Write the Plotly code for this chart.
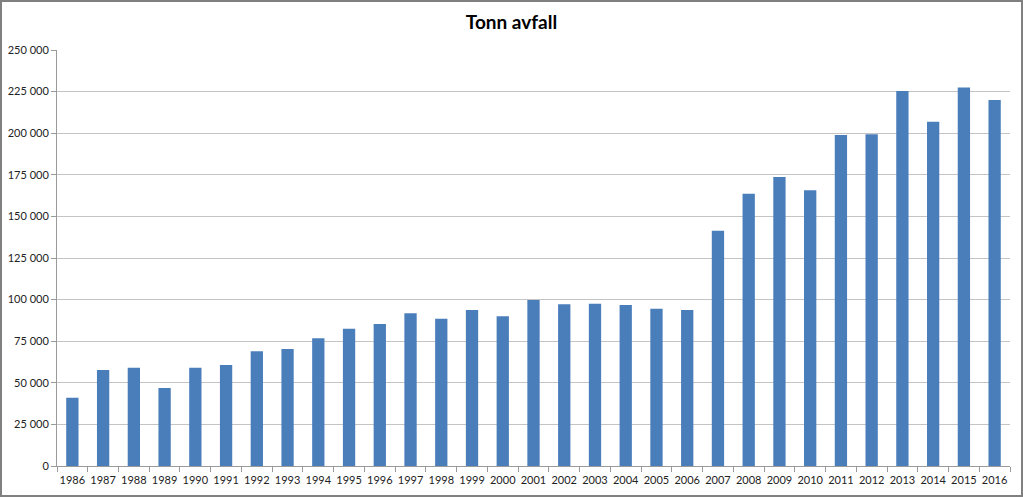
import plotly.graph_objects as go

years = [str(y) for y in range(1986, 2017)]
tonn = [41000, 57700, 59100, 46900, 59100, 60700, 68900, 70300, 76700, 82500, 85300,
        91800, 88500, 93700, 90000, 99800, 97200, 97500, 96800, 94500, 93700,
        141400, 163600, 173700, 165700, 198900, 199300, 225400, 206900, 227400, 220000]
ytick_vals = list(range(0, 250001, 25000))

W, H = 1023, 497
L, R, T, B = 57, 13, 50, 31
pw, ph = W - L - R, H - T - B

fig = go.Figure(go.Bar(x=years, y=tonn, marker=dict(color="#4a7ebb", line=dict(width=0)),
                       width=0.4))

fig.update_layout(
    width=W, height=H,
    margin=dict(l=L, r=R, t=T, b=B, autoexpand=False),
    paper_bgcolor="white", plot_bgcolor="white",
    separators=", ",
    title=dict(text="<b>Tonn avfall</b>", x=0.5, xref="container", xanchor="center",
               y=1 - 22 / H, yanchor="middle",
               font=dict(family="Lato, Arial", size=19, color="#000")),
    font=dict(family="Lato, Arial", size=11, color="#222"),
    showlegend=False,
    bargap=0.6,
)
fig.update_xaxes(type="category", showgrid=False, showline=True, linecolor="#9a9a9a",
                 ticks="outside", tickson="boundaries", ticklen=5, tickcolor="#9a9a9a",
                 tickangle=0, automargin=False, ticklabelstandoff=4,
                 tickfont=dict(size=11))
fig.update_yaxes(range=[0, 250000], tickvals=ytick_vals, tickformat=",d",
                 showgrid=True, gridcolor="#c4c4c4", gridwidth=1, automargin=False,
                 showline=True, linecolor="#9a9a9a", ticks="outside", ticklen=5,
                 tickcolor="#9a9a9a", zeroline=False, tickfont=dict(size=11))

# outer chart border
fig.add_shape(type="rect", xref="paper", yref="paper",
              x0=(1 - L) / pw, x1=(W - 1 - L) / pw,
              y0=-(B - 1) / ph, y1=1 + (T - 1) / ph,
              line=dict(color="#808080", width=2), fillcolor="rgba(0,0,0,0)", layer="above")

fig.write_html("out.html")
